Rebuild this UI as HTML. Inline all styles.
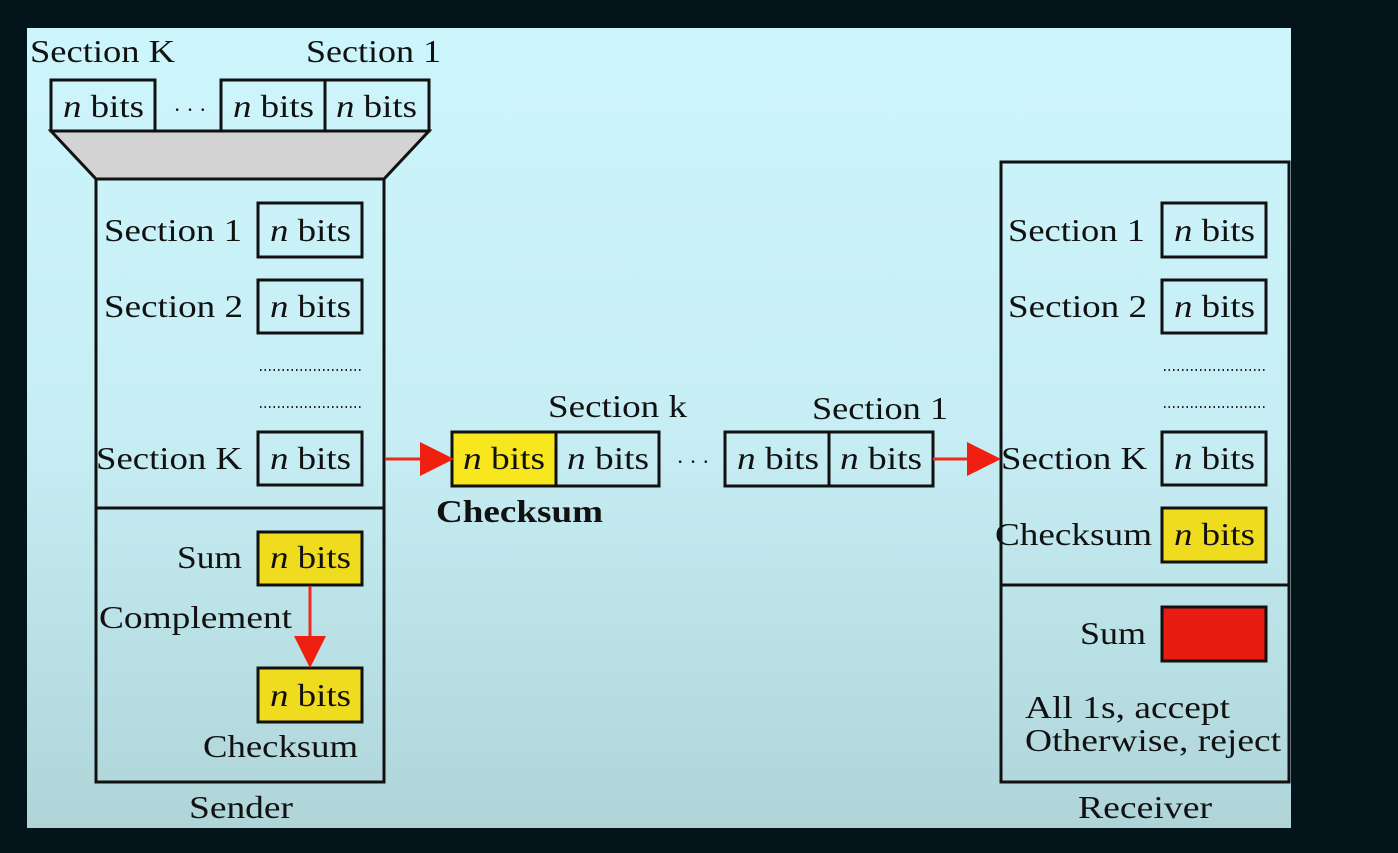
<!DOCTYPE html>
<html><head><meta charset="utf-8"><style>
html,body{margin:0;padding:0;background:#03151a;}
svg{display:block}
text{font-family:"Liberation Serif",serif;fill:#111;}
</style></head><body>
<svg width="1398" height="853" viewBox="0 0 1398 853" xmlns="http://www.w3.org/2000/svg">
<defs>
<linearGradient id="g" x1="0" y1="0" x2="0" y2="1">
<stop offset="0" stop-color="#cdf6fc"/><stop offset="0.5" stop-color="#c6eef4"/><stop offset="1" stop-color="#afd5d9"/>
</linearGradient>
</defs>
<rect x="0" y="0" width="1398" height="853" fill="#03151a"/>
<rect x="27" y="28" width="1264" height="800" fill="url(#g)"/>
<g stroke="#111" stroke-width="3" fill="none">
<rect x="51" y="80" width="104" height="51"/>
<rect x="221" y="80" width="104" height="51"/>
<rect x="325" y="80" width="104" height="51"/>
<polygon points="51,131 429,131 384,179 96,179" fill="#d3d3d3"/>
<rect x="96" y="179" width="288" height="603"/>
<line x1="96" y1="508" x2="384" y2="508"/>
<rect x="258" y="203" width="104" height="54"/>
<rect x="258" y="280" width="104" height="53"/>
<rect x="258" y="432" width="104" height="53"/>
<rect x="258" y="532" width="104" height="53" fill="#f0dc1e"/>
<rect x="258" y="668" width="104" height="54" fill="#f0dc1e"/>
<rect x="452" y="432" width="104" height="54" fill="#f8e61e"/>
<rect x="556" y="432" width="103" height="54"/>
<rect x="725" y="432" width="104" height="54"/>
<rect x="829" y="432" width="104" height="54"/>
<rect x="1001" y="162" width="288" height="620"/>
<line x1="1001" y1="585" x2="1289" y2="585"/>
<rect x="1162" y="203" width="104" height="54"/>
<rect x="1162" y="280" width="104" height="53"/>
<rect x="1162" y="432" width="104" height="53"/>
<rect x="1162" y="508" width="104" height="54" fill="#f0dc1e"/>
<rect x="1162" y="607" width="104" height="54" fill="#e81c10"/>
</g>
<g stroke="#222" stroke-width="2" stroke-dasharray="1.5 3">
<line x1="260" y1="370" x2="362" y2="370"/><line x1="260" y1="407" x2="362" y2="407"/>
<line x1="1164" y1="370" x2="1266" y2="370"/><line x1="1164" y1="407" x2="1266" y2="407"/>
</g>
<g stroke="#ee2a1e" stroke-width="3">
<line x1="385" y1="459" x2="425" y2="459"/>
<line x1="933" y1="459" x2="972" y2="459"/>
<line x1="310" y1="586" x2="310" y2="640"/>
</g>
<g fill="#f02010">
<polygon points="420,442 454,459 420,476"/>
<polygon points="967,442 1001,459 967,476"/>
<polygon points="294,636 326,636 310,668"/>
</g>
<g font-size="32">
<text lengthAdjust="spacingAndGlyphs" x="30" y="62" textLength="145">Section K</text>
<text lengthAdjust="spacingAndGlyphs" x="306" y="62" textLength="135">Section 1</text>
<text lengthAdjust="spacingAndGlyphs" x="63" y="117" textLength="81"><tspan font-style="italic">n</tspan> bits</text>
<text x="190" y="117" text-anchor="middle" font-size="22">· · ·</text>
<text lengthAdjust="spacingAndGlyphs" x="233" y="117" textLength="81"><tspan font-style="italic">n</tspan> bits</text>
<text lengthAdjust="spacingAndGlyphs" x="336" y="117" textLength="81"><tspan font-style="italic">n</tspan> bits</text>

<text lengthAdjust="spacingAndGlyphs" x="104" y="241" textLength="138">Section 1</text>
<text lengthAdjust="spacingAndGlyphs" x="104" y="317" textLength="139">Section 2</text>
<text lengthAdjust="spacingAndGlyphs" x="96" y="469" textLength="146">Section K</text>
<text lengthAdjust="spacingAndGlyphs" x="270" y="241" textLength="81"><tspan font-style="italic">n</tspan> bits</text>
<text lengthAdjust="spacingAndGlyphs" x="270" y="317" textLength="81"><tspan font-style="italic">n</tspan> bits</text>
<text lengthAdjust="spacingAndGlyphs" x="270" y="469" textLength="81"><tspan font-style="italic">n</tspan> bits</text>
<text lengthAdjust="spacingAndGlyphs" x="177" y="568" textLength="65">Sum</text>
<text lengthAdjust="spacingAndGlyphs" x="270" y="568" textLength="81"><tspan font-style="italic">n</tspan> bits</text>
<text lengthAdjust="spacingAndGlyphs" x="99" y="628" textLength="193">Complement</text>
<text lengthAdjust="spacingAndGlyphs" x="270" y="706" textLength="81"><tspan font-style="italic">n</tspan> bits</text>
<text lengthAdjust="spacingAndGlyphs" x="203" y="757" textLength="155">Checksum</text>
<text lengthAdjust="spacingAndGlyphs" x="189" y="818" textLength="104">Sender</text>

<text lengthAdjust="spacingAndGlyphs" x="548" y="417" textLength="139">Section k</text>
<text lengthAdjust="spacingAndGlyphs" x="812" y="419" textLength="136">Section 1</text>
<text lengthAdjust="spacingAndGlyphs" x="463" y="469" textLength="82"><tspan font-style="italic">n</tspan> bits</text>
<text lengthAdjust="spacingAndGlyphs" x="567" y="469" textLength="82"><tspan font-style="italic">n</tspan> bits</text>
<text x="693" y="469" text-anchor="middle" font-size="22">· · ·</text>
<text lengthAdjust="spacingAndGlyphs" x="737" y="469" textLength="82"><tspan font-style="italic">n</tspan> bits</text>
<text lengthAdjust="spacingAndGlyphs" x="840" y="469" textLength="82"><tspan font-style="italic">n</tspan> bits</text>
<text lengthAdjust="spacingAndGlyphs" x="436" y="522" textLength="167" font-weight="bold">Checksum</text>

<text lengthAdjust="spacingAndGlyphs" x="1008" y="241" textLength="137">Section 1</text>
<text lengthAdjust="spacingAndGlyphs" x="1008" y="317" textLength="139">Section 2</text>
<text lengthAdjust="spacingAndGlyphs" x="1001" y="469" textLength="146">Section K</text>
<text lengthAdjust="spacingAndGlyphs" x="995" y="545" textLength="157">Checksum</text>
<text lengthAdjust="spacingAndGlyphs" x="1174" y="241" textLength="81"><tspan font-style="italic">n</tspan> bits</text>
<text lengthAdjust="spacingAndGlyphs" x="1174" y="317" textLength="81"><tspan font-style="italic">n</tspan> bits</text>
<text lengthAdjust="spacingAndGlyphs" x="1174" y="469" textLength="81"><tspan font-style="italic">n</tspan> bits</text>
<text lengthAdjust="spacingAndGlyphs" x="1174" y="545" textLength="81"><tspan font-style="italic">n</tspan> bits</text>
<text lengthAdjust="spacingAndGlyphs" x="1080" y="644" textLength="66">Sum</text>
<text lengthAdjust="spacingAndGlyphs" x="1025" y="718" textLength="205">All 1s, accept</text>
<text lengthAdjust="spacingAndGlyphs" x="1025" y="751" textLength="256">Otherwise, reject</text>
<text lengthAdjust="spacingAndGlyphs" x="1078" y="818" textLength="134">Receiver</text>
</g>
</svg>
</body></html>
